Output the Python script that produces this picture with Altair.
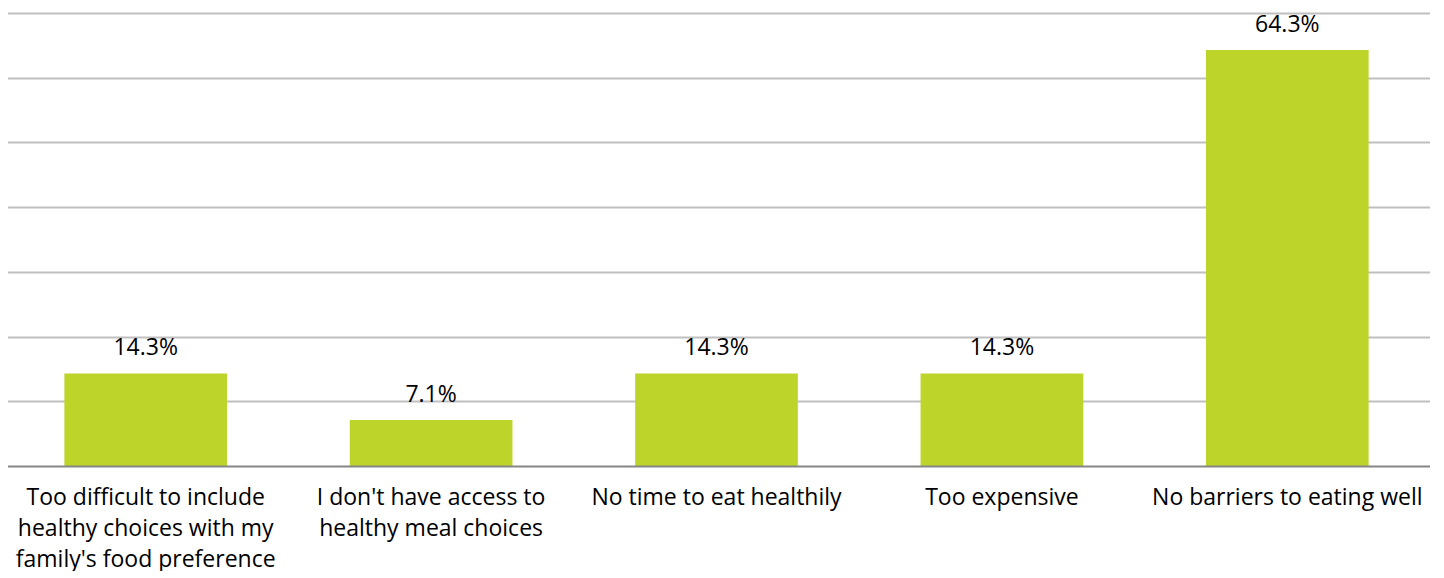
import altair as alt
import pandas as pd

categories = [
    "Too difficult to include\nhealthy choices with my\nfamily's food preference",
    "I don't have access to\nhealthy meal choices",
    "No time to eat healthily",
    "Too expensive",
    "No barriers to eating well",
]
values = [14.3, 7.1, 14.3, 14.3, 64.3]
value_labels = ["14.3%", "7.1%", "14.3%", "14.3%", "64.3%"]

df = pd.DataFrame({"category": categories, "value": values, "label": value_labels})

FONT = "Open Sans"
FS = 23

x = alt.X(
    "category:N",
    sort=None,
    scale=alt.Scale(paddingInner=0.43, paddingOuter=0.215),
    axis=alt.Axis(
        title=None,
        labelExpr="split(datum.label, '\\n')",
        labelAngle=0,
        labelFont=FONT,
        labelFontSize=FS,
        labelColor="#000000",
        labelLineHeight=31,
        labelPadding=20,
        labelLimit=400,
        ticks=False,
        domainColor="#868686",
        domainWidth=2,
        labelBaseline="top",
        zindex=1,
    ),
)
y = alt.Y(
    "value:Q",
    scale=alt.Scale(domain=[0, 70], nice=False),
    axis=alt.Axis(
        title=None,
        labels=False,
        ticks=False,
        domain=False,
        values=[10, 20, 30, 40, 50, 60, 70],
        gridColor="#BFBFBF",
        gridWidth=2,
    ),
)

bars = alt.Chart(df).mark_bar(color="#BDD42B").encode(x=x, y=y)
text = alt.Chart(df).mark_text(
    baseline="alphabetic", dy=-18, font=FONT, fontSize=FS, color="#000000"
).encode(x=alt.X("category:N", sort=None), y="value:Q", text="label:N")

chart = (
    alt.layer(bars, text)
    .properties(
        width=1427,
        height=453,
        padding={"left": -5, "top": 5, "right": 0, "bottom": 0},
    )
    .configure_view(stroke=None)
)

chart.save("out.html", embed_options={"renderer": "svg", "actions": False})
